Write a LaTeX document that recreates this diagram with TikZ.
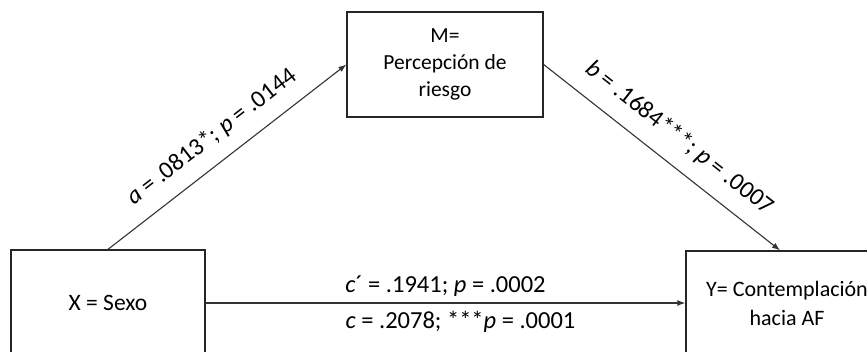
\documentclass[tikz,border=0pt]{standalone}
\usepackage{fontspec}
\setmainfont{Carlito}
\usetikzlibrary{arrows.meta}
\begin{document}
\begin{tikzpicture}[x=1pt,y=-1pt,
  box/.style={draw=black!85, line width=1.3pt, inner sep=0pt, align=center,
    font=\fontsize{21.5}{27}\selectfont},
  lbl/.style={font=\fontsize{24.5}{29}\selectfont, inner sep=0pt},
  conn/.style={draw=black!80, line width=1.1pt, -{Latex[length=8pt,width=6pt]}}]
\useasboundingbox (0,0) rectangle (867,352);
\clip (0,0) rectangle (867,352);
\node[box, minimum width=194pt, minimum height=106pt, font=\fontsize{23.5}{28}\selectfont] (X) at (108,303) {X = Sexo};
\node[box, minimum width=196pt, minimum height=105pt] (M) at (445,64.5) {M=\\Percepción de\\riesgo};
\node[box, minimum width=202pt, minimum height=104pt, font=\fontsize{22}{29}\selectfont] (Y) at (787,303) {Y= Contemplación\\hacia AF};
\draw[conn] (X.north) -- node[lbl, sloped, above=14pt] {\textit{a} = .0813*; \textit{p} = .0144} (M.west);
\draw[conn] (M.east) -- node[lbl, sloped, above=15pt, xshift=2pt] {\textit{b} = .1684***; \textit{p} = .0007} ([xshift=-7pt]Y.north);
\draw[conn] (X.east) -- node[lbl, above=6pt] {\textit{c}´ = .1941; \textit{p} = .0002}
  node[lbl, below=8pt, xshift=15pt] {\textit{c} = .2078; ***\textit{p} = .0001} (Y.west);
\end{tikzpicture}
\end{document}
